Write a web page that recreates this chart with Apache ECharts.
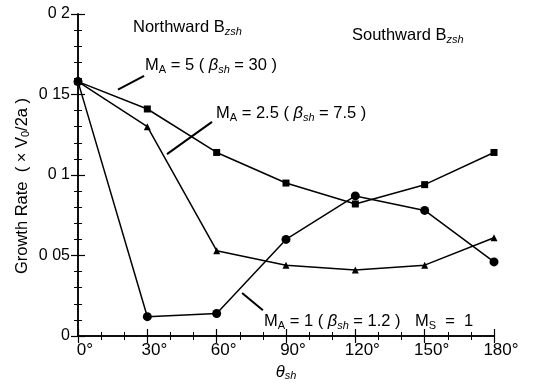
<!DOCTYPE html>
<html>
<head>
<meta charset="utf-8">
<script src="https://cdn.jsdelivr.net/npm/echarts@6/dist/echarts.min.js"></script>
<style>
  html, body { margin: 0; padding: 0; background: #fff; }
  #main { width: 542px; height: 384px; }
</style>
</head>
<body>
<div id="main"></div>
<script>
// angle of the sheath field, degrees
var angles = [0, 30, 60, 90, 120, 150, 180];
// growth rate, units of V0/2a
var ma5 = [0.158, 0.141, 0.114, 0.095, 0.082, 0.094, 0.114];
var ma25 = [0.158, 0.130, 0.053, 0.044, 0.041, 0.044, 0.061];
var ma1 = [0.158, 0.012, 0.014, 0.060, 0.087, 0.078, 0.046];
var yTickLabels = ['0', '0 05', '0 1', '0 15', '0 2'];
var xTickLabels = ['0°', '30°', '60°', '90°', '120°', '150°', '180°'];

function pairs(vals) {
  return angles.map(function (a, i) { return [a, vals[i]]; });
}

var font = 'Liberation Sans, Arial, sans-serif';
var richBase = {
  n: { fontFamily: font, fontSize: 16.5, color: '#000' },
  i: { fontFamily: font, fontSize: 16.5, color: '#000', fontStyle: 'italic' },
  s: { fontFamily: font, fontSize: 11, color: '#000', padding: [8, 0, 0, 0] },
  si: { fontFamily: font, fontSize: 11, color: '#000', fontStyle: 'italic', padding: [8, 0, 0, 0] }
};

var axisLine = { show: true, lineStyle: { color: '#000', width: 1.5 } };
var tick = { inside: true, length: 7, lineStyle: { color: '#000', width: 1.2 } };

// leader lines from labels to curves (data coordinates)
var leaders = [
  [[17.3, 0.153], [28.6, 0.1615]],
  [[38.5, 0.113], [58.0, 0.133]],
  [[71, 0.0267], [80, 0.016]]
];

var option = {
  animation: false,
  backgroundColor: '#fff',
  grid: { left: 78, right: 48, top: 14, bottom: 48, outerBoundsMode: 'none' },
  xAxis: [{
    type: 'value', min: 0, max: 180, interval: 30,
    axisLine: axisLine,
    axisTick: tick,
    minorTick: { show: true, splitNumber: 3, length: 4, lineStyle: { color: '#000', width: 1 } },
    splitLine: { show: false },
    axisLabel: {
      color: '#000', fontFamily: font, fontSize: 17, margin: 6, padding: [0, 0, 0, 14],
      formatter: function (v) { return xTickLabels[Math.round(v / 30)]; }
    },
    name: '{i|θ}{si|sh}',
    nameLocation: 'middle', nameGap: 26,
    nameTextStyle: { rich: richBase }
  }, {
    type: 'value', min: 0, max: 180, interval: 30, position: 'top',
    axisLine: axisLine,
    axisTick: tick,
    minorTick: { show: true, splitNumber: 3, length: 4, lineStyle: { color: '#000', width: 1 } },
    splitLine: { show: false },
    axisLabel: { show: false }
  }],
  yAxis: [{
    type: 'value', min: 0, max: 0.2, interval: 0.05,
    axisLine: axisLine,
    axisTick: tick,
    minorTick: { show: true, splitNumber: 5, length: 4, lineStyle: { color: '#000', width: 1 } },
    splitLine: { show: false },
    axisLabel: {
      color: '#000', fontFamily: font, fontSize: 16, margin: 8,
      formatter: function (v) { return yTickLabels[Math.round(v / 0.05)]; }
    }
  }, {
    type: 'value', min: 0, max: 0.2, interval: 0.05, position: 'right',
    axisLine: axisLine,
    axisTick: tick,
    minorTick: { show: true, splitNumber: 5, length: 4, lineStyle: { color: '#000', width: 1 } },
    splitLine: { show: false },
    axisLabel: { show: false }
  }],
  series: [{
    name: 'MA5', type: 'line', data: pairs(ma5),
    symbol: 'rect', symbolSize: 7,
    lineStyle: { color: '#000', width: 1.5 },
    itemStyle: { color: '#000' },
    markLine: {
      silent: true, symbol: ['none', 'none'],
      lineStyle: { color: '#000', width: 2, type: 'solid' },
      label: { show: false },
      data: leaders.map(function (l) { return [{ coord: l[0] }, { coord: l[1] }]; })
    }
  }, {
    name: 'MA2.5', type: 'line', data: pairs(ma25),
    symbol: 'triangle', symbolSize: 7,
    lineStyle: { color: '#000', width: 1.5 },
    itemStyle: { color: '#000' }
  }, {
    name: 'MA1', type: 'line', data: pairs(ma1),
    symbol: 'circle', symbolSize: 9,
    lineStyle: { color: '#000', width: 1.5 },
    itemStyle: { color: '#000' }
  }],
  graphic: [
    { type: 'text', left: 133, top: 19, style: { rich: richBase, text: '{n|Northward B}{si|zsh}' } },
    { type: 'text', left: 352, top: 27, style: { rich: richBase, text: '{n|Southward B}{si|zsh}' } },
    { type: 'text', left: 145, top: 57, style: { rich: richBase, text: '{n|M}{s|A}{n| = 5 ( }{i|β}{si|sh}{n| = 30 )}' } },
    { type: 'text', left: 216, top: 105, style: { rich: richBase, text: '{n|M}{s|A}{n| = 2.5 ( }{i|β}{si|sh}{n| = 7.5 )}' } },
    { type: 'text', left: 264, top: 313, style: { rich: richBase, text: '{n|M}{s|A}{n| = 1 ( }{i|β}{si|sh}{n| = 1.2 )}' } },
    { type: 'text', left: 415, top: 313, style: { rich: richBase, text: '{n|M}{s|S}{n|  =  1}' } },
    {
      type: 'text', x: 22, y: 186, rotation: Math.PI / 2,
      style: { rich: richBase, text: '{n|Growth Rate  ( × V}{s|0}{n|/2a )}', align: 'center', verticalAlign: 'middle' }
    }
  ]
};

var chart = echarts.init(document.getElementById('main'));
chart.setOption(option);
</script>
</body>
</html>
